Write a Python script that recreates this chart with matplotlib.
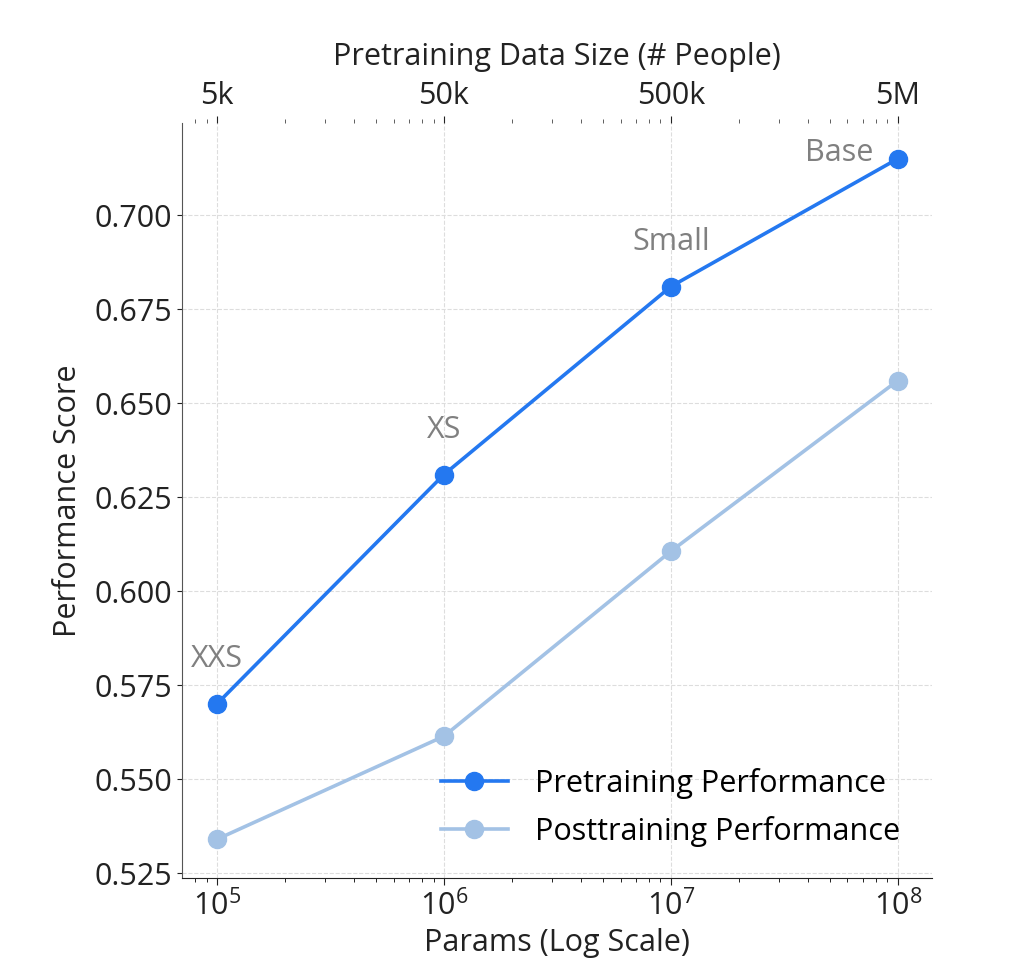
import matplotlib.pyplot as plt
import numpy as np

plt.rcParams['font.family'] = ['Open Sans', 'DejaVu Sans']

params = [1e5, 1e6, 1e7, 1e8]
pretrain = [0.570, 0.631, 0.681, 0.715]
posttrain = [0.534, 0.5614, 0.6106, 0.656]
sizes = ['XXS', 'XS', 'Small', 'Base']
people_labels = ['5k', '50k', '500k', '5M']
y_ticks = [0.525, 0.550, 0.575, 0.600, 0.625, 0.650, 0.675, 0.700]

blue = '#2478F0'
light = '#A3C2E5'

fig = plt.figure(figsize=(10.14, 9.76), dpi=100)
ax = fig.add_axes([0.1795, 0.1004, 0.7395, 0.7736])

ax.plot(params, pretrain, '-o', color=blue, lw=2.6, ms=13, label='Pretraining Performance', zorder=3)
ax.plot(params, posttrain, '-o', color=light, lw=2.6, ms=13, label='Posttraining Performance', zorder=3)

# size names next to the pretraining points
offsets = [(0, 32), (0, 32), (0, 32), (-42, 4)]
for x, y, s, off in zip(params, pretrain, sizes, offsets):
    ax.annotate(s, (x, y), xytext=off, textcoords='offset points',
                ha='center', va='center', fontsize=22, color='#808080')

ax.set_xscale('log')
ax.set_xlim(10**4.846, 10**8.15)
ax.set_ylim(0.5237, 0.7245)
ax.set_yticks(y_ticks)
ax.set_yticklabels([f'{v:.3f}' for v in y_ticks])
ax.tick_params(axis='both', labelsize=22, colors='#222222')
ax.tick_params(axis='x', which='major', length=5)
ax.tick_params(axis='x', which='minor', length=3)
ax.grid(True, which='major', ls='--', color='#dddddd', lw=0.8)

ax.spines['top'].set_visible(False)
ax.spines['right'].set_visible(False)
ax.spines['left'].set_color('#555555')
ax.spines['bottom'].set_color('#222222')

ax.set_xlabel('Params (Log Scale)', fontsize=22, color='#222222', labelpad=4)
ax.set_ylabel('Performance Score', fontsize=22, color='#222222', labelpad=8)

# top axis: same log positions, labelled by people count
top = ax.twiny()
top.set_xscale('log')
top.set_xlim(ax.get_xlim())
top.set_xticks(params)
top.set_xticklabels(people_labels)
top.tick_params(labelsize=22, colors='#222222', length=5)
top.tick_params(which='minor', length=3, color='#444444')
for side in ['top', 'right', 'left', 'bottom']:
    top.spines[side].set_visible(False)
top.set_xlabel('Pretraining Data Size (# People)', fontsize=22, color='#222222', labelpad=12)

ax.legend(loc='lower right', bbox_to_anchor=(0.995, 0.005), frameon=False, fontsize=22,
          handlelength=2.2, handletextpad=0.9, labelspacing=0.55)

fig.savefig('out.png', dpi=100, facecolor='white')
